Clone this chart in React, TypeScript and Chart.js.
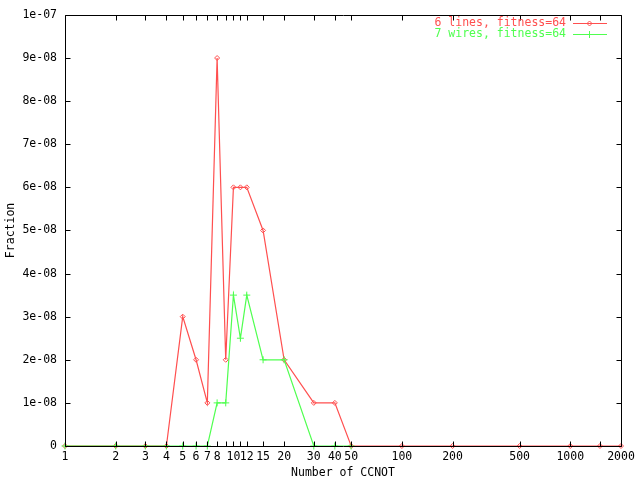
import React, { useEffect, useRef } from "react";
import { Chart, registerables } from "chart.js";

Chart.register(...registerables);

// ---- data ----
const redLabel = "6 lines, fitness=64";
const greenLabel = "7 wires, fitness=64";
const redX = [1, 2, 3, 4, 5, 6, 7, 8, 9, 10, 11, 12, 15, 20, 30, 40, 50, 100, 200, 500, 1000, 1500, 2000];
const redY = [0, 0, 0, 0, 3e-8, 2e-8, 1e-8, 9e-8, 2e-8, 6e-8, 6e-8, 6e-8, 5e-8, 2e-8, 1e-8, 1e-8, 0, 0, 0, 0, 0, 0, 0];
const greenX = [1, 2, 3, 4, 5, 6, 7, 8, 9, 10, 11, 12, 15, 20, 30, 40, 50];
const greenY = [0, 0, 0, 0, 0, 0, 0, 1e-8, 1e-8, 3.5e-8, 2.5e-8, 3.5e-8, 2e-8, 2e-8, 0, 0, 0];

const xTickValues = [1, 2, 3, 4, 5, 6, 7, 8, 9, 10, 11, 12, 15, 20, 30, 40, 50, 100, 200, 500, 1000, 1500, 2000];
const xTickLabels = ["1", "2", "3", "4", "5", "6", "7", "8", "", "10", "", "12", "15", "20", "30", "40", "50", "100", "200", "500", "1000", "", "2000"];
const yTickValues = [0, 1e-8, 2e-8, 3e-8, 4e-8, 5e-8, 6e-8, 7e-8, 8e-8, 9e-8, 1e-7];
const yTickLabels = ["0", "1e-08", "2e-08", "3e-08", "4e-08", "5e-08", "6e-08", "7e-08", "8e-08", "9e-08", "1e-07"];

const xTitle = "Number of CCNOT";
const yTitle = "Fraction";

const RED = "#ff4f4f";
const GREEN = "#4fff4f";
const FONT = '"DejaVu Sans Mono", monospace';
const FSIZE = 11.5;

function drawDiamond(ctx: CanvasRenderingContext2D, x: number, y: number, r: number) {
  ctx.beginPath();
  ctx.moveTo(x, y - r);
  ctx.lineTo(x + r, y);
  ctx.lineTo(x, y + r);
  ctx.lineTo(x - r, y);
  ctx.closePath();
  ctx.stroke();
}
function drawPlus(ctx: CanvasRenderingContext2D, x: number, y: number, r: number) {
  ctx.beginPath();
  ctx.moveTo(x - r, y);
  ctx.lineTo(x + r, y);
  ctx.moveTo(x, y - r);
  ctx.lineTo(x, y + r);
  ctx.stroke();
}

const framePlugin = {
  id: "gnuframe",
  afterDraw(chart: any) {
    const { ctx, chartArea } = chart;
    const xs = chart.scales.x;
    const ys = chart.scales.y;
    const L = Math.round(chartArea.left) + 0.5;
    const R = Math.round(chartArea.right) + 0.5;
    const T = Math.round(chartArea.top) + 0.5;
    const B = Math.round(chartArea.bottom) + 0.5;
    ctx.save();
    ctx.strokeStyle = "#000";
    ctx.lineWidth = 1;
    ctx.beginPath();
    ctx.rect(L, T, R - L, B - T);
    // ticks
    const tl = 5;
    xTickValues.forEach((v) => {
      const px = Math.round(xs.getPixelForValue(v)) + 0.5;
      ctx.moveTo(px, B);
      ctx.lineTo(px, B - tl);
      ctx.moveTo(px, T);
      ctx.lineTo(px, T + tl);
    });
    yTickValues.forEach((v) => {
      const py = Math.round(ys.getPixelForValue(v)) + 0.5;
      ctx.moveTo(L, py);
      ctx.lineTo(L + tl, py);
      ctx.moveTo(R, py);
      ctx.lineTo(R - tl, py);
    });
    ctx.stroke();

    // legend
    ctx.font = FSIZE + "px " + FONT;
    ctx.textAlign = "right";
    ctx.textBaseline = "middle";
    const rows = [
      { label: chart.data.datasets[0].label, color: RED, kind: "d", y: 23.5 },
      { label: chart.data.datasets[1].label, color: GREEN, kind: "p", y: 34.5 },
    ];
    rows.forEach((r) => {
      ctx.fillStyle = r.color;
      ctx.fillText(r.label, 566, r.y);
      ctx.strokeStyle = r.color;
      ctx.beginPath();
      ctx.moveTo(573, r.y);
      ctx.lineTo(607, r.y);
      ctx.stroke();
      if (r.kind === "d") drawDiamond(ctx, 589.5, r.y, 2.5);
      else drawPlus(ctx, 589.5, r.y, 3.5);
    });
    ctx.restore();
  },
};

export default function App() {
  const ref = useRef<HTMLCanvasElement | null>(null);
  useEffect(() => {
    if (!ref.current) return;
    const chart = new Chart(ref.current, {
      type: "line",
      data: {
        datasets: [
          {
            label: redLabel,
            data: redX.map((x, i) => ({ x, y: redY[i] })),
            borderColor: RED,
            backgroundColor: "rgba(0,0,0,0)",
            borderWidth: 1.2,
            pointStyle: "rectRot",
            pointRadius: 2.5,
            pointBorderWidth: 1,
            pointBorderColor: RED,
            pointBackgroundColor: "rgba(0,0,0,0)",
            tension: 0,
            clip: false as any,
            order: 1,
          },
          {
            label: greenLabel,
            data: greenX.map((x, i) => ({ x, y: greenY[i] })),
            borderColor: GREEN,
            backgroundColor: "rgba(0,0,0,0)",
            borderWidth: 1.2,
            pointStyle: "cross",
            pointRadius: 3.5,
            pointBorderWidth: 1,
            pointBorderColor: GREEN,
            tension: 0,
            clip: false as any,
            order: 0,
          },
        ],
      },
      options: {
        animation: false,
        responsive: false,
        devicePixelRatio: 1,
        layout: { padding: { top: 13, right: 19, left: 0, bottom: 0 } },
        plugins: {
          legend: { display: false },
          tooltip: { enabled: false },
        },
        scales: {
          x: {
            type: "logarithmic",
            min: 1,
            max: 2000,
            grid: { display: false, drawTicks: false },
            border: { display: false },
            afterBuildTicks: (s: any) => {
              s.ticks = xTickValues.map((v) => ({ value: v }));
            },
            afterFit: (s: any) => {
              s.height = 34;
            },
            ticks: {
              autoSkip: false,
              maxRotation: 0,
              minRotation: 0,
              padding: 4,
              color: "#000",
              font: { family: FONT, size: FSIZE },
              callback: (_v: any, i: number) => xTickLabels[i],
            },
            title: {
              display: true,
              text: xTitle,
              color: "#000",
              font: { family: FONT, size: FSIZE },
              padding: { top: 0, bottom: 0 },
            },
          },
          y: {
            type: "linear",
            min: 0,
            max: 1e-7,
            grid: { display: false, drawTicks: false },
            border: { display: false },
            afterBuildTicks: (s: any) => {
              s.ticks = yTickValues.map((v) => ({ value: v }));
            },
            afterFit: (s: any) => {
              s.width = 65;
            },
            ticks: {
              padding: 8,
              color: "#000",
              font: { family: FONT, size: FSIZE },
              callback: (_v: any, i: number) => yTickLabels[i],
            },
            title: {
              display: true,
              text: yTitle,
              color: "#000",
              font: { family: FONT, size: FSIZE },
              padding: { top: 4, bottom: 0 },
            },
          },
        },
      },
      plugins: [framePlugin],
    });
    return () => chart.destroy();
  }, []);
  return (
    <div style={{ position: "absolute", left: 0, top: 0, width: 640, height: 480, background: "#fff" }}>
      <canvas ref={ref} width={640} height={480} />
    </div>
  );
}
